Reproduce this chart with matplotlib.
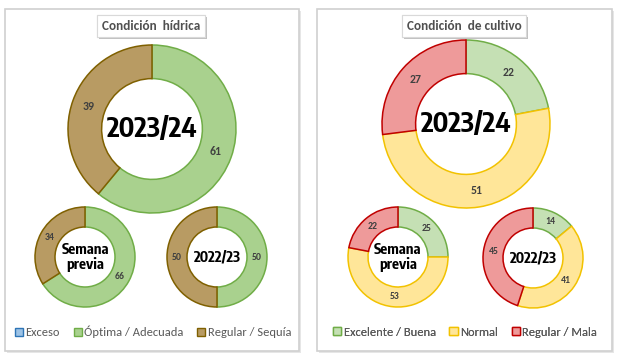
import numpy as np
import matplotlib.pyplot as plt
import matplotlib.patheffects as pe
from matplotlib.patches import Rectangle, Patch

# --- datos ---
hidrica_labels = ['Exceso', 'Óptima / Adecuada', 'Regular / Sequía']
hidrica_actual = [0, 61, 39]
hidrica_previa = [0, 66, 34]
hidrica_anterior = [0, 50, 50]

cultivo_labels = ['Excelente / Buena', 'Normal', 'Regular / Mala']
cultivo_actual = [22, 51, 27]
cultivo_previa = [25, 53, 22]
cultivo_anterior = [14, 41, 45]

hidrica_fill = ['#9DC3E6', '#A9D18E', '#B89B63']
hidrica_edge = ['#2E75B6', '#70AD47', '#7F6000']
cultivo_fill = ['#C5E0B4', '#FFE699', '#EE9A9A']
cultivo_edge = ['#70AD47', '#F2C200', '#C00000']

W, H = 619, 358
narrow = ['Encode Sans Condensed', 'DejaVu Sans']
calibri = ['Carlito', 'Liberation Sans', 'DejaVu Sans']


def Y(y):
    return H - y


def donut(ax, values, cx, cy, r, fills, edges, center_txt, center_size, lab_size):
    wedges, _ = ax.pie(values, center=(cx, Y(cy)), radius=r, startangle=90,
                       counterclock=False, colors=fills,
                       wedgeprops=dict(width=r * 0.4, linewidth=1.1))
    for w, ec, v in zip(wedges, edges, values):
        w.set_edgecolor(ec)
        if v == 0:
            continue
        th = np.deg2rad((w.theta1 + w.theta2) / 2)
        rr = r * 0.8
        ax.text(cx + rr * np.cos(th), Y(cy) + rr * np.sin(th), str(v),
                ha='center', va='center', fontsize=lab_size, family=calibri,
                fontweight='bold', color='#404040')
    ax.text(cx, Y(cy), center_txt, ha='center', va='center', fontsize=center_size,
            fontweight='bold', family=narrow, color='black', linespacing=1.05)


fig = plt.figure(figsize=(W / 100, H / 100), dpi=100)
ax = fig.add_axes([0, 0, 1, 1])

# marcos de los paneles
for x0, x1 in [(5, 299), (317, 612)]:
    ax.add_patch(Rectangle((x0 + 1.5, Y(351) - 1.5), x1 - x0, 342, facecolor='#E6E6E6',
                           edgecolor='none', zorder=0))
    ax.add_patch(Rectangle((x0, Y(351)), x1 - x0, 342, facecolor='white',
                           edgecolor='#D0D0D0', linewidth=1.2, zorder=0.5))

donut(ax, hidrica_actual, 152, 129, 84, hidrica_fill, hidrica_edge, '2023/24', 19.5, 8.5)
donut(ax, hidrica_previa, 85, 257, 50, hidrica_fill, hidrica_edge, 'Semana\nprevia', 10.5, 7)
donut(ax, hidrica_anterior, 217, 257, 50, hidrica_fill, hidrica_edge, '2022/23', 10.5, 7)

donut(ax, cultivo_actual, 466, 124, 84, cultivo_fill, cultivo_edge, '2023/24', 19.5, 8.5)
donut(ax, cultivo_previa, 398, 257, 50, cultivo_fill, cultivo_edge, 'Semana\nprevia', 10.5, 7)
donut(ax, cultivo_anterior, 533, 258, 50, cultivo_fill, cultivo_edge, '2022/23', 10.5, 7)

# titulos
for tx, txt in [(151, 'Condición  hídrica'), (464, 'Condición  de cultivo')]:
    t = ax.text(tx, Y(26), txt, ha='center', va='center', fontsize=9.5, family=calibri,
                fontweight='bold', color='#505050', zorder=5,
                bbox=dict(boxstyle='square,pad=0.35', facecolor='white',
                          edgecolor='#D9D9D9', linewidth=0.8))
    t.get_bbox_patch().set_path_effects([pe.withSimplePatchShadow(offset=(1.5, -1.5), alpha=0.35),
                                         pe.Normal()])

# leyendas
for labels, fills, edges, lx in [(hidrica_labels, hidrica_fill, hidrica_edge, 153),
                                 (cultivo_labels, cultivo_fill, cultivo_edge, 465)]:
    handles = [Patch(facecolor=f, edgecolor=e, linewidth=1) for f, e in zip(fills, edges)]
    leg = ax.legend(handles, labels, loc='center', bbox_to_anchor=(lx, Y(332)),
                    bbox_transform=ax.transData, ncol=3, frameon=False,
                    prop=dict(family=calibri, size=9),
                    handlelength=0.65, handleheight=0.65, handletextpad=0.2,
                    columnspacing=1.1, labelcolor='#595959')
    ax.add_artist(leg)

ax.set_xlim(0, W)
ax.set_ylim(0, H)
ax.set_aspect('auto')
ax.axis('off')

fig.savefig('out.png', dpi=100)
